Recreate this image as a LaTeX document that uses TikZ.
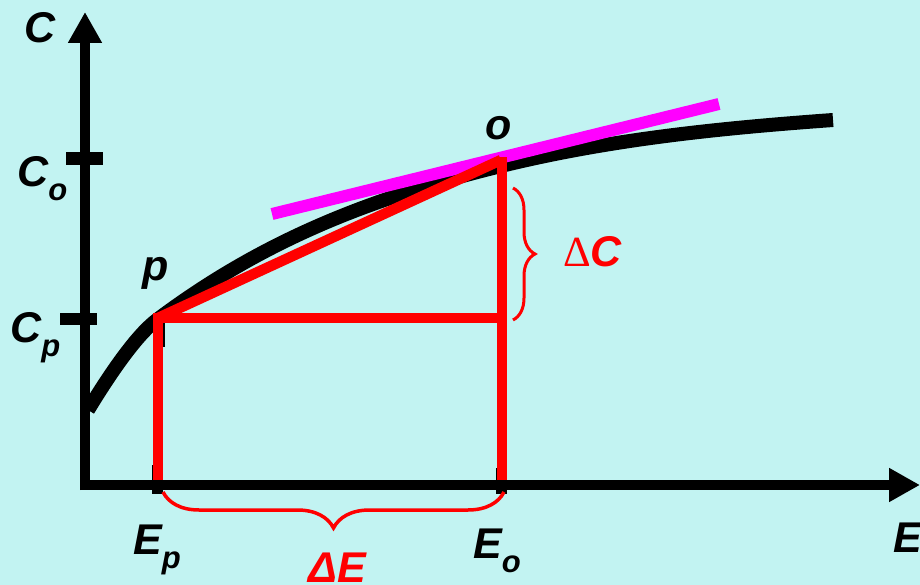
\documentclass[tikz,border=0pt]{standalone}
\usepackage{fontspec}
\setmainfont{Liberation Sans}
\newfontfamily\serifdelta{Liberation Serif}
\usetikzlibrary{arrows.meta,decorations.pathreplacing}
\definecolor{bgcyan}{RGB}{194,243,242}
\definecolor{lblred}{RGB}{255,0,0}
\definecolor{tanmag}{RGB}{255,0,255}
\newcommand\lowsub[1]{\raisebox{-14pt}{\fontsize{31}{31}\selectfont #1}}
\begin{document}
\begin{tikzpicture}[x=1pt,y=-1pt,
  axisline/.style={line width=10pt,-{Triangle[length=31pt,width=32pt]}},
  tickmark/.style={line width=12pt},
  curveline/.style={line width=14pt,line cap=butt},
  redline/.style={line width=10.5pt,lblred,line join=miter},
  tanline/.style={line width=12pt,tanmag},
  bracedec/.style={lblred,line width=3.5pt,decorate},
  lbl/.style={font=\fontsize{43}{43}\selectfont\bfseries\itshape,inner sep=0pt,anchor=base west}]
\useasboundingbox (0,0) rectangle (920,585);
\fill[bgcyan] (0,0) rectangle (920,585);
% named points
\coordinate (P) at (158,318);
\coordinate (O) at (501,160);
\coordinate (Otop) at (502,157);
\coordinate (Pfoot) at (158,480);
\coordinate (Ofoot) at (502,480);
\coordinate (Ocorner) at (502,318);
% ticks
\draw[tickmark,line width=13pt] (66,158.5) -- (103,158.5);
\draw[tickmark] (60,319) -- (97,319);
\draw[tickmark,line width=11pt] (157.5,465) -- (157.5,494);
\draw[tickmark,line width=11pt] (501,468) -- (501,494);
\draw[tickmark] (158.5,322) -- (158.5,347);
% curve
\draw[curveline] (88,410) .. controls (116,364) and (140,332) .. (158,319)
  .. controls (272,233.5) and (386,194.4) .. (501,166)
  .. controls (611,139) and (722,128) .. (833,120);
% tangent
\draw[tanline] (272,214) -- (719,104);
% red construction
\draw[redline] (Pfoot) -- (P) -- (Ocorner);
\draw[redline] (P) -- (O);
\draw[redline] (Ofoot) -- (Otop);
% axes
\draw[axisline] (80,485) -- (920,485);
\draw[axisline] (85,490) -- (85,12);
% braces
\draw[bracedec,decoration={brace,amplitude=36pt}] (504,492) -- (163,492);
\draw[bracedec,line width=3pt,decoration={brace,amplitude=22pt}] (513,188) -- (513,320);
% labels
\node[lbl] (Clbl) at (24,43) {C};
\node[lbl] (Colbl) at (17,187) {C\lowsub{o}};
\node[lbl] (Cplbl) at (10,342) {C\lowsub{p}};
\node[lbl] (plbl) at (142,280) {p};
\node[lbl] (olbl) at (485,140) {o};
\node[lbl] (Eplbl) at (133,554) {E\lowsub{p}};
\node[lbl] (Eolbl) at (473,558) {E\lowsub{o}};
\node[lbl] (Elbl) at (893,552) {E};
\node[lbl,lblred] (dC) at (563,266) {{\serifdelta\mdseries\upshape Δ}C};
\node[lbl,lblred] (dE) at (308,582) {ΔE};
\end{tikzpicture}
\end{document}
